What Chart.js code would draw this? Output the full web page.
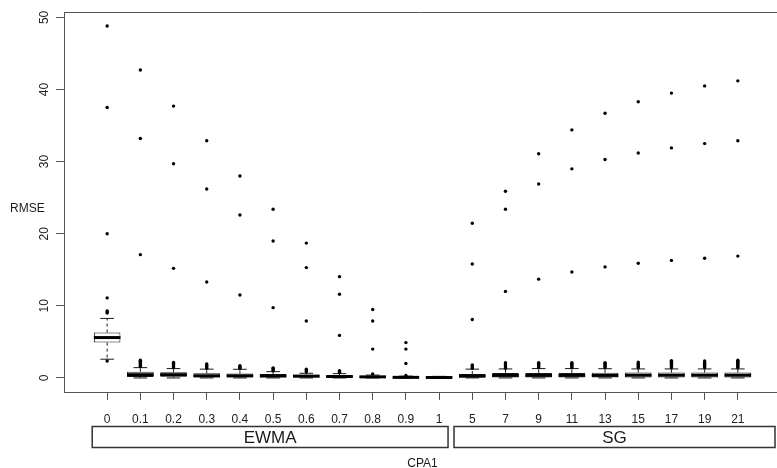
<!DOCTYPE html>
<html><head><meta charset="utf-8">
<script src="https://cdn.jsdelivr.net/npm/chart.js@4.4.1/dist/chart.umd.min.js"></script>
<style>html,body{margin:0;padding:0;background:#fff;}#wrap{width:777px;height:468px;}</style>
</head><body><div id="wrap"><canvas id="c" width="777" height="468"></canvas></div>
<script>
const categories = ['0','0.1','0.2','0.3','0.4','0.5','0.6','0.7','0.8','0.9','1','5','7','9','11','13','15','17','19','21'];
const groups = ['EWMA','SG'];
const groupFrom = [0.55, 11.45];
const groupTo = [11.27, 21.12];
const yTicks = [0, 10, 20, 30, 40, 50];

const q1 =           [4.9, 0.12, 0.15, 0.05, 0.05, 0.05, 0.05, 0.03, 0.02, 0.0, 0.0, 0.03, 0.05, 0.05, 0.05, 0.05, 0.05, 0.05, 0.05, 0.05];
const med =          [5.6, 0.45, 0.45, 0.30, 0.30, 0.28, 0.25, 0.20, 0.15, 0.08, 0.06, 0.28, 0.35, 0.35, 0.35, 0.35, 0.38, 0.38, 0.38, 0.38];
const q3 =           [6.3, 0.85, 0.80, 0.65, 0.60, 0.55, 0.45, 0.35, 0.25, 0.15, 0.15, 0.55, 0.70, 0.70, 0.70, 0.72, 0.75, 0.75, 0.75, 0.75];
const lowerWhisker = [2.6, 0.0, 0.0, 0.0, 0.0, 0.0, 0.0, 0.0, 0.0, 0.0, 0.0, 0.0, 0.0, 0.0, 0.0, 0.0, 0.0, 0.0, 0.0, 0.0];
const upperWhisker = [8.25, 1.43, 1.30, 1.22, 1.20, 0.87, 0.65, 0.60, 0.40, 0.25, 0.22, 1.22, 1.25, 1.30, 1.30, 1.28, 1.25, 1.25, 1.25, 1.25];
const outliers = [
  [2.35, 9.0, 9.15, 9.3, 11.1, 20.0, 37.5, 48.8],
  [1.55, 1.7, 1.85, 2.0, 2.15, 2.3, 2.45, 17.1, 33.2, 42.7],
  [1.4, 1.55, 1.7, 1.85, 2.0, 2.15, 15.2, 29.7, 37.7],
  [1.35, 1.5, 1.65, 1.8, 1.95, 13.3, 26.2, 32.9],
  [1.3, 1.45, 1.6, 1.7, 11.5, 22.6, 28.0],
  [1.0, 1.15, 1.3, 1.4, 9.75, 19.0, 23.4],
  [0.85, 1.0, 1.2, 7.9, 15.3, 18.7],
  [0.75, 0.9, 1.0, 5.9, 11.6, 14.05],
  [0.55, 4.0, 7.9, 9.5],
  [0.35, 2.0, 4.0, 4.9],
  [],
  [1.35, 1.5, 1.65, 1.8, 8.1, 15.8, 21.45],
  [1.35, 1.5, 1.65, 1.8, 1.95, 2.1, 12.0, 23.4, 25.9],
  [1.4, 1.55, 1.7, 1.85, 2.0, 2.1, 13.7, 26.9, 31.1],
  [1.4, 1.55, 1.7, 1.85, 2.0, 2.1, 14.7, 29.0, 34.4],
  [1.4, 1.55, 1.7, 1.85, 2.0, 2.1, 15.4, 30.3, 36.7],
  [1.4, 1.55, 1.7, 1.85, 2.0, 2.2, 15.9, 31.2, 38.3],
  [1.4, 1.55, 1.7, 1.85, 2.0, 2.15, 2.3, 2.4, 16.3, 31.9, 39.5],
  [1.4, 1.55, 1.7, 1.85, 2.0, 2.15, 2.35, 16.6, 32.5, 40.5],
  [1.4, 1.55, 1.7, 1.85, 2.0, 2.15, 2.3, 2.45, 16.9, 32.9, 41.2]
];

const pos = categories.map((_, i) => i + 1);
const FONT = '"Liberation Sans", Arial, sans-serif';
const INK = '#1a1a1a';
const AXIS = '#555';

const whiskerData = [];
pos.forEach((p, i) => {
  whiskerData.push({x: p, y: q3[i]}, {x: p, y: upperWhisker[i]}, {x: p, y: null});
  whiskerData.push({x: p, y: q1[i]}, {x: p, y: lowerWhisker[i]}, {x: p, y: null});
});
const capData = [];
pos.forEach((p, i) => {
  capData.push({x: p, y: upperWhisker[i]}, {x: p, y: lowerWhisker[i]});
});

const framePlugin = {
  id: 'rFrame',
  afterDraw(chart) {
    const {ctx, chartArea: a, scales: {x}} = chart;
    ctx.save();
    ctx.strokeStyle = AXIS; ctx.lineWidth = 1;
    ctx.beginPath(); ctx.moveTo(a.left, a.top + 0.5); ctx.lineTo(a.right, a.top + 0.5); ctx.stroke();
    ctx.fillStyle = INK;
    ctx.font = '12px ' + FONT;
    ctx.textAlign = 'left'; ctx.textBaseline = 'alphabetic';
    ctx.fillText('RMSE', a.left - 54, (a.top + a.bottom) / 2 + 10);
    ctx.textAlign = 'center';
    ctx.fillText('CPA1', x.getPixelForValue(10.5), a.bottom + 75);
    ctx.strokeStyle = '#333'; ctx.lineWidth = 1.5;
    ctx.font = '17px ' + FONT;
    groups.forEach((g, i) => {
      const x0 = x.getPixelForValue(groupFrom[i]);
      const x1 = Math.min(x.getPixelForValue(groupTo[i]), chart.width - 1);
      ctx.strokeRect(x0, a.bottom + 34.5, x1 - x0, 21);
      ctx.fillText(g, (x0 + x1) / 2, a.bottom + 51);
    });
    ctx.restore();
  }
};

new Chart(document.getElementById('c'), {
  type: 'bar',
  data: {
    datasets: [
      {type: 'scatter', label: 'outliers',
       data: outliers.flatMap((arr, i) => arr.map(v => ({x: pos[i], y: v}))),
       pointRadius: 1.7, pointBackgroundColor: '#000', pointBorderWidth: 0, showLine: false},
      {type: 'scatter', label: 'median',
       data: med.map((v, i) => ({x: pos[i], y: v})),
       pointStyle: 'line', pointRadius: 13.3, pointBorderWidth: 3, pointBorderColor: '#000', showLine: false},
      {type: 'scatter', label: 'caps', data: capData,
       pointStyle: 'line', pointRadius: 6.8, pointBorderWidth: 1, pointBorderColor: INK, showLine: false},
      {type: 'line', label: 'whiskers', data: whiskerData,
       borderDash: [3, 3], borderWidth: 1, borderColor: INK, pointRadius: 0, spanGaps: false, fill: false, tension: 0},
      {type: 'bar', label: 'boxes',
       data: q1.map((v, i) => ({x: pos[i], y: [v, q3[i]]})),
       backgroundColor: '#fff', borderColor: INK, borderWidth: 1, borderSkipped: false,
       barPercentage: 0.8, categoryPercentage: 1}
    ]
  },
  options: {
    responsive: false, animation: false, events: [],
    layout: {autoPadding: false, padding: {left: 0, right: 0, top: 12, bottom: 0}},
    plugins: {legend: {display: false}, tooltip: {enabled: false}},
    scales: {
      x: {type: 'linear', min: -0.3, max: 21.18, offset: false,
          afterBuildTicks: s => { s.ticks = pos.map(v => ({value: v})); },
          afterFit: s => { s.height = 76; s.paddingLeft = 0; s.paddingRight = 0; },
          ticks: {callback: (v, i) => categories[i], autoSkip: false, maxRotation: 0, minRotation: 0,
                  padding: 12, color: '#222', font: {family: FONT, size: 12}},
          grid: {offset: false, drawOnChartArea: false, drawTicks: true, tickLength: 8, color: AXIS},
          border: {display: true, color: AXIS, width: 1}},
      y: {type: 'linear', min: -1.95, max: 50.75,
          afterBuildTicks: s => { s.ticks = yTicks.map(v => ({value: v})); },
          afterFit: s => { s.width = 64; s.paddingTop = 0; s.paddingBottom = 0; },
          ticks: {minRotation: 90, maxRotation: 90, crossAlign: 'center', padding: 5,
                  color: '#222', font: {family: FONT, size: 12}},
          grid: {drawOnChartArea: false, drawTicks: true, tickLength: 8, color: AXIS},
          border: {display: true, color: AXIS, width: 1}}
    }
  },
  plugins: [framePlugin]
});
</script></body></html>
